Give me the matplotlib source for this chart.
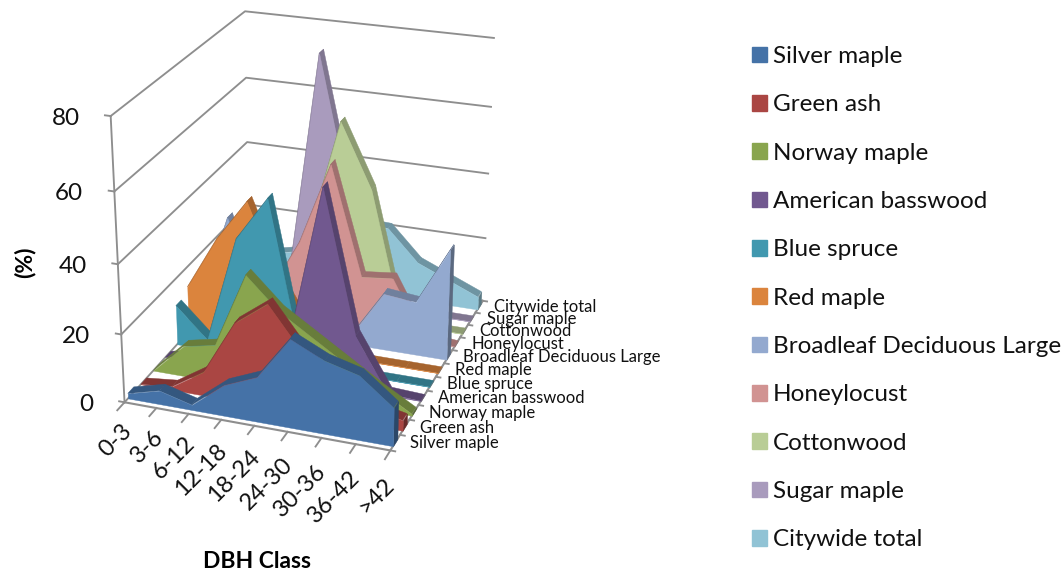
import numpy as np
import matplotlib
matplotlib.use("Agg")
import matplotlib.pyplot as plt
from matplotlib.patches import Patch
from mpl_toolkits.mplot3d.art3d import Poly3DCollection

plt.rcParams['font.family'] = ['Lato', 'DejaVu Sans']

dbh_classes = ["0-3", "3-6", "6-12", "12-18", "18-24", "24-30", "30-36", "36-42", ">42"]
z_ticks = [0, 20, 40, 60, 80]
species = ["Silver maple", "Green ash", "Norway maple", "American basswood", "Blue spruce",
           "Red maple", "Broadleaf Deciduous Large", "Honeylocust", "Cottonwood",
           "Sugar maple", "Citywide total"]
colors = ["#4572A7", "#AA4643", "#89A54E", "#71588F", "#4198AF", "#DB843D",
          "#93A9CF", "#D19392", "#B9CD96", "#A99BBD", "#91C3D5"]

silver_maple = [1.5, 4, 1.5, 9, 13, 25.5, 21, 18.5, 11]
green_ash = [0, 1, 7, 23, 30, 18, 10, 5, 3]
norway_maple = [0, 9, 11, 33, 24, 18, 12, 6, 0.5]
american_basswood = [0, 2, 2, 8, 13, 57, 16, 0.5, 0]
blue_spruce = [12, 3, 35, 48, 3, 1, 0, 0, 0]
red_maple = [14, 30, 42.5, 20, 5, 0, 0, 0, 0]
broadleaf = [5, 33, 8, 3, 1, 3, 17, 16, 33]
honeylocust = [0, 3, 8, 25, 49.5, 17, 18, 1, 0]
cottonwood = [0, 2, 8, 25, 59, 40, 2, 0, 0]
sugar_maple = [0, 1, 7, 75, 33, 3, 1, 0, 0]
citywide = [5, 8, 10, 18, 22, 21.5, 12, 8, 4]
series = [silver_maple, green_ash, norway_maple, american_basswood, blue_spruce, red_maple,
          broadleaf, honeylocust, cottonwood, sugar_maple, citywide]

W, H_PX = 1064, 576
nx, ny, ztop = len(dbh_classes) - 1, len(species), z_ticks[-1]

# Screen calibration of the chart box: world corner -> pixel (fits the perspective)
calib = [((0, 0, 0), (124.3, 401)), ((0, 0, 20), (120.7, 333)), ((0, 0, 40), (118, 264)),
         ((0, 0, 60), (115, 192)), ((0, 0, 80), (110, 117)),
         ((0, ny, 0), (250, 268)), ((0, ny, 20), (248, 205)), ((0, ny, 40), (247, 141)),
         ((0, ny, 60), (246, 77)), ((0, ny, 80), (245, 11)),
         ((nx, ny, 0), (482, 300)), ((nx, ny, 20), (485, 237)), ((nx, ny, 40), (488, 173)),
         ((nx, ny, 60), (491.7, 107)), ((nx, ny, 80), (494, 39)),
         ((nx, 0, 0), (391, 452))]
N = np.diag([1 / nx, 1 / ny, 1 / ztop, 1.0])
rows = []
for (x, y, z), (u, v) in calib:
    p = np.array([x / nx, y / ny, z / ztop, 1.0])
    rows.append(np.r_[p, 0, 0, 0, 0, -u * p])
    rows.append(np.r_[0, 0, 0, 0, p, -v * p])
H = np.linalg.svd(np.array(rows))[2][-1].reshape(3, 4) @ N
H = H / H[2, 3]


def to_px(x, y, z):
    q = H @ np.array([x, y, z, 1.0])
    return q[0] / q[2], q[1] / q[2]


fig = plt.figure(figsize=(W / 100, H_PX / 100), dpi=100)
ax = fig.add_axes([0, 0, 1, 1], projection='3d', computed_zorder=False)
ax.apply_aspect = lambda position=None: None
ax.set_axis_off()
ax.patch.set_visible(False)

inv = ax.transData.inverted()
o = inv.transform((0, 0))
e = inv.transform((1, 1))
sx, sy = e - o


def get_proj():
    r1 = sx * H[0] + o[0] * H[2]
    r2 = sy * (H_PX * H[2] - H[1]) + o[1] * H[2]
    # depth row stays negative so that mplot3d keeps every line point
    return np.array([r1, r2, [0, 1e-3, 0, -1.0], H[2]])


ax.get_proj = get_proj

grid_c = "#8E8E8E"
for z in z_ticks:
    ax.plot([0, 0, nx], [0, ny, ny], [z, z, z], color=grid_c, lw=1.35, zorder=1)
    ax.plot([0, -0.17], [0, 0], [z, z], color=grid_c, lw=1.35, zorder=1)
ax.plot([0, 0], [0, 0], [0, ztop], color=grid_c, lw=1.35, zorder=1)
ax.plot([0, nx, nx], [0, 0, ny], [0, 0, 0], color=grid_c, lw=1.5, zorder=1)
for i in range(nx + 1):
    ax.plot([i, i], [0, -0.55], [0, 0], color=grid_c, lw=1.35, zorder=1)
for j in range(ny + 1):
    ax.plot([nx, nx + 0.14], [j, j], [0, 0], color=grid_c, lw=1.35, zorder=1)


def shade(c, f):
    return tuple(f * v for v in matplotlib.colors.to_rgb(c))


for k, (vals, col) in enumerate(zip(series, colors)):
    y0, y1 = k + 0.27, k + 0.73
    tops = [[(i, y0, vals[i]), (i + 1, y0, vals[i + 1]), (i + 1, y1, vals[i + 1]), (i, y1, vals[i])]
            for i in range(nx)]
    base = 10 + 3 * (ny - k)
    ax.add_collection3d(Poly3DCollection(tops, facecolors=shade(col, 0.76), edgecolors=shade(col, 0.76),
                                         linewidths=0.3, zorder=base))
    cap = [[(nx, y0, 0), (nx, y1, 0), (nx, y1, vals[-1]), (nx, y0, vals[-1])]]
    ax.add_collection3d(Poly3DCollection(cap, facecolors=shade(col, 0.62), edgecolors=shade(col, 0.62),
                                         linewidths=0.3, zorder=base + 1))
    front = [[(0, y0, 0)] + [(i, y0, vals[i]) for i in range(nx + 1)] + [(nx, y0, 0)]]
    ax.add_collection3d(Poly3DCollection(front, facecolors=col, edgecolors=col,
                                         linewidths=0.3, zorder=base + 2))


def put(px, py, s, **kw):
    fig.text(px / W, 1 - py / H_PX, s, **kw)


for z in z_ticks:
    u, v = to_px(0, 0, z)
    put(u - 31, v + 2, str(z), fontsize=17.5, ha='right', va='center', color='#111111')
for i, lab in enumerate(dbh_classes):
    u, v = to_px(i, 0, 0)
    put(u + 4 - 0.5 * i, v + 25 + 0.8 * i, lab, fontsize=17, rotation=45, rotation_mode='anchor',
        ha='right', va='center', color='#111111')
for j, lab in enumerate(species):
    u, v = to_px(nx, j + 0.5, 0)
    put(u + 15, v + 0.5, lab, fontsize=12, ha='left', va='center', color='#111111')

put(25, 262, "(%)", fontsize=16.5, fontweight='bold', rotation=90, ha='center', va='center')
put(257, 561, "DBH Class", fontsize=16.5, fontweight='bold', ha='center', va='center')

handles = [Patch(facecolor=c, edgecolor=c, label=s) for s, c in zip(species, colors)]
fig.legend(handles=handles, loc='upper left', bbox_to_anchor=(752 / W, 1 - 46 / H_PX),
           frameon=False, fontsize=17.5, labelspacing=1.125, handlelength=0.62, handleheight=0.62,
           handletextpad=0.25, borderpad=0, borderaxespad=0, labelcolor='#111111')

fig.savefig("out.png", dpi=100)
